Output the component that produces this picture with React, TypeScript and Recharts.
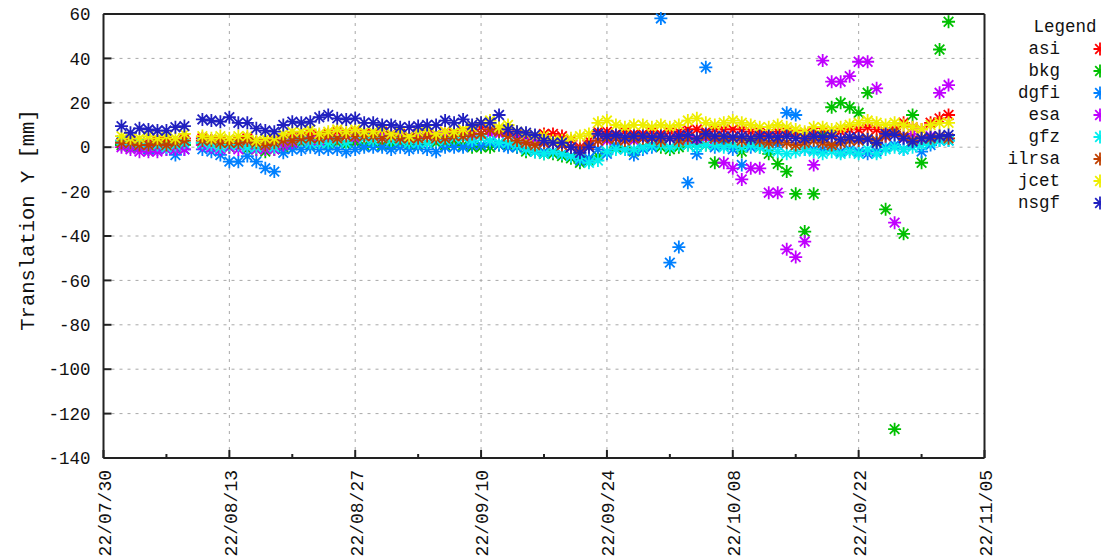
import { CartesianGrid, ReferenceLine, Scatter, ScatterChart, XAxis, YAxis } from 'recharts'

// days since 22/07/30 (no solution on day 10)
const days = [
  2, 3, 4, 5, 6, 7, 8, 9,
  11, 12, 13, 14, 15, 16, 17, 18, 19,
  20, 21, 22, 23, 24, 25, 26, 27, 28, 29,
  30, 31, 32, 33, 34, 35, 36, 37, 38, 39,
  40, 41, 42, 43, 44, 45, 46, 47, 48, 49,
  50, 51, 52, 53, 54, 55, 56, 57, 58, 59,
  60, 61, 62, 63, 64, 65, 66, 67, 68, 69,
  70, 71, 72, 73, 74, 75, 76, 77, 78, 79,
  80, 81, 82, 83, 84, 85, 86, 87, 88, 89,
  90, 91, 92, 93, 94,
]

const majorDays = [0, 14, 28, 42, 56, 70, 84, 98]
const minorDays = [0, 7, 14, 21, 28, 35, 42, 49, 56, 63, 70, 77, 84, 91, 98]
const xTickLabels = ['22/07/30', '22/08/13', '22/08/27', '22/09/10', '22/09/24', '22/10/08', '22/10/22', '22/11/05']
const yTicks = [-140, -120, -100, -80, -60, -40, -20, 0, 20, 40, 60]

const asi = [
  3, 3, 2, 2, 3, 3, 2, 4,
  4, 3, 3, 2, 3, 4, 2, 2, 3,
  4, 5, 5, 6, 5, 6, 7, 6, 7, 6,
  6, 7, 6, 6, 5, 6, 6, 6, 7, 6,
  7, 8, 9, 8, 7, 7, 6, 5, 5, 6,
  6, 5, 3, 0, 3, 7, 7, 6, 7, 6,
  6, 7, 6, 7, 7, 8, 8, 7, 8, 8,
  8, 8, 7, 7, 6, 7, 7, 6, 6, 7,
  7, 6, 7, 8, 8, 9, 8, 7, 8, 11,
  9, 8, 11, 13, 14.5,
]
const bkg = [
  1, 0, 0, -1, 0, 1, 0, 1,
  2, 1, 0, 0, 1, -1, -1, -2, -1,
  0, 1, 2, 1, 2, 1, 2, 1, 2, 1,
  2, 1, 1, 2, 1, 1, 2, 2, 1, 2,
  1, 0, 0, 0, 1, 1, 0, -2, -2, -3,
  -3, -4, -5, -7, -6, -4, -2, 0, -1, -2,
  0, 1, 0, -1, 0, 1, 2, 1, -7, 2,
  1, -2, 2, 0, -3, -7.5, -11, -21, -38, -21,
  5, 18, 20, 18, 15.5, 24.5, 2, -28, -127, -39,
  14.5, -7, 3, 44, 56.5,
]
const dgfi = [
  2, 1, 0, -1, -1, -1, -3.5, -1,
  -1, -2, -3.5, -6.5, -6.5, -4, -6.5, -9.5, -11,
  -2.5, -1, -1, 0, -1, -1, -1, -2, -1, 0,
  0, 0, -1, 0, -1, 0, -1, -2, 0, 0,
  0, 1, 1, 2, 1, 0, 0, -1, -2, -2,
  -2, -3, -4, -6, -5, -1, -3, 1, -1, -3.5,
  -1, 0, 58, -52, -45, -16, -3, 36, 0, 1,
  -1, -8, 0, 1, 2, 1, 15.5, 14.5, -1, -1,
  -1, 0, -2, -1, -2, -3, -2, 0, 1, -1,
  2, -2, 1, 3, 3,
]
const esa = [
  0, -1, -2, -2, -2, -1, -1, -1,
  1, 0, -1, 0, -1, 0, -1, -1, -1,
  1, 2, 3, 3, 3, 4, 4, 5, 4, 5,
  5, 5, 6, 5, 5, 6, 5, 5, 5, 5,
  5, 5, 6, 6, 6, 5, 4, 3, 3, 2,
  2, 1, 0, -1, 1, 3, 3, 4, 3, 3,
  4, 4, 3, 4, 4, 3, 3, 4, 3, -7,
  -9.5, -14.5, -9.5, -9.5, -20.5, -20.5, -46, -49.5, -42.5, -8,
  39, 29.5, 29.5, 32, 38.5, 38.5, 26.5, 5, -34, 4,
  6, 3, 5, 24.5, 28,
]
const gfz = [
  3, 2, 2, 1, 1, 0, 1, 2,
  2, 1, 0, 1, 1, 0, 0, 1, 0,
  3, 3, 3, 2, 2, 2, 3, 2, 5, 4,
  3, 4, 3, 3, 2, 2, 2, 3, 3, 4,
  4, 3, 4, 3, 2, 2, 1, -1, -2, -3,
  -2, -3, -4, -5, -7, -6, -2, -1, -1, -1,
  0, 1, 1, 0, 1, 1, 0, 1, 1, 0,
  1, 0, 1, 0, -1, -2, -3, -2, -1, -2,
  -3, -2, -3, -2, -3, -1, -3, -1, 0, -1,
  0, 1, 2, 3, 3,
]
const ilrsa = [
  2, 2, 1, 1, 2, 1, 2, 3,
  3, 3, 2, 2, 2, 3, 2, 1, 2,
  3, 3, 4, 4, 4, 5, 4, 5, 5, 5,
  5, 4, 5, 4, 4, 4, 5, 4, 4, 5,
  5, 6, 6, 8, 7, 5, 3, 2, 1, 2,
  2, 1, 0, -1, 1, 3, 4, 4, 3, 4,
  4, 4, 3, 4, 3, 4, 4, 5, 4, 4,
  4, 3, 4, 3, 2, 3, 2, 1, 2, 3,
  2, 1, 2, 3, 3, 4, 3, 5, 7, 5,
  3, 4, 4, 5, 4,
]
const jcet = [
  5, 4, 4, 5, 4, 5, 4, 6,
  5, 4, 5, 4, 5, 5, 3, 4, 4,
  6, 7, 7, 8, 6, 7, 8, 7, 8, 7,
  7, 8, 6, 7, 5, 7, 8, 6, 7, 7,
  8, 9, 11, 12, 9, 10, 7, 6, 5, 5,
  3, 3, 4, 5, 6, 11, 12, 10, 9, 10,
  10, 9, 10, 9, 10, 12, 13, 11, 10, 11,
  12, 11, 10, 9, 9, 10, 9, 8, 7, 9,
  9, 8, 9, 10, 11, 12, 11, 10, 11, 10,
  9, 8, 10, 11, 11,
]
const nsgf = [
  9.5, 6.5, 8.5, 8, 7.5, 7.5, 9, 9.5,
  12.5, 12, 11.5, 13.5, 11, 11, 8.5, 7.5, 7,
  10, 11.5, 11, 11.5, 13.5, 14.5, 13, 12.5, 13, 11,
  11, 10, 10, 9, 9, 9.5, 10, 10, 12, 11,
  12.5, 10, 11, 11, 14.5, 8, 7, 6.5, 5.5, 3,
  2, 2, 0, -2.5, 0, 6, 5, 5.5, 4.5, 5,
  5, 4.5, 5, 4, 5, 5.5, 4, 6, 5, 5,
  4.5, 5, 4, 5, 5, 4.5, 5, 4, 4, 5,
  4.5, 5, 3.5, 4.5, 4, 3.5, 2, 6, 5.5, 4,
  2.5, 4, 4.5, 5, 5.5,
]

const series = [
  { name: 'asi', color: '#ff0000', values: asi },
  { name: 'bkg', color: '#00c000', values: bkg },
  { name: 'dgfi', color: '#0080ff', values: dgfi },
  { name: 'esa', color: '#c000ff', values: esa },
  { name: 'gfz', color: '#00eeee', values: gfz },
  { name: 'ilrsa', color: '#c04000', values: ilrsa },
  { name: 'jcet', color: '#eeee00', values: jcet },
  { name: 'nsgf', color: '#2020c0', values: nsgf },
]

const FONT = '"Liberation Mono", "DejaVu Sans Mono", monospace'
const BORDER = '#222'
const GRID = '#a8a8a8'

const starPath = (cx: number, cy: number) => {
  const r = 6.5
  const d = 4.8
  return `M${cx - r},${cy}H${cx + r}M${cx},${cy - r}V${cy + r}M${cx - d},${cy - d}L${cx + d},${cy + d}M${cx - d},${cy + d}L${cx + d},${cy - d}`
}

const makeStar = (color: string) => (props: any) => {
  const { cx, cy } = props
  if (cx == null || cy == null) return <g />
  return <path d={starPath(cx, cy)} stroke={color} strokeWidth={1.8} fill="none" />
}

// gnuplot draws its ticks inward from the border, majors longer than minors
const BottomTick = (props: any) => {
  const { x, y, payload } = props
  const i = majorDays.indexOf(payload.value)
  const major = i >= 0
  return (
    <g>
      <line x1={x} y1={y} x2={x} y2={y - (major ? 8 : 4)} stroke={BORDER} strokeWidth={2} />
      {major && (
        <text
          transform={`translate(${x + 1},${y + 12}) rotate(-90)`}
          textAnchor="end"
          dy="0.35em"
          fontFamily={FONT}
          fontSize={18}
          fill="#111"
        >
          {xTickLabels[i]}
        </text>
      )}
    </g>
  )
}

const TopTick = (props: any) => {
  const { x, y, payload } = props
  const major = majorDays.includes(payload.value)
  return <line x1={x} y1={y} x2={x} y2={y + (major ? 8 : 4)} stroke={BORDER} strokeWidth={2} />
}

const LeftTick = (props: any) => {
  const { x, y, payload } = props
  return (
    <g>
      <line x1={x} y1={y} x2={x + 8} y2={y} stroke={BORDER} strokeWidth={2} />
      <text x={x - 13} y={y} dy="0.35em" textAnchor="end" fontFamily={FONT} fontSize={17.5} fill="#111">
        {payload.value}
      </text>
    </g>
  )
}

const RightTick = (props: any) => {
  const { x, y } = props
  return <line x1={x} y1={y} x2={x - 8} y2={y} stroke={BORDER} strokeWidth={2} />
}

function Legend() {
  return (
    <div
      style={{
        position: 'absolute',
        left: 1008,
        top: 16,
        width: 100,
        fontFamily: FONT,
        fontSize: 17.5,
        color: '#111',
      }}
    >
      <div style={{ position: 'absolute', left: 20, width: 74, textAlign: 'center', lineHeight: '22px' }}>Legend</div>
      {series.map((s, i) => (
        <div key={s.name} style={{ position: 'absolute', top: 22 + i * 22, left: 0, width: 100, height: 22 }}>
          <span style={{ position: 'absolute', right: 48, lineHeight: '22px' }}>{s.name}</span>
          <svg width={16} height={16} style={{ position: 'absolute', left: 84, top: 3 }}>
            <path d={starPath(8, 8)} stroke={s.color} strokeWidth={1.8} fill="none" />
          </svg>
        </div>
      ))}
    </div>
  )
}

export default function App() {
  return (
    <div style={{ position: 'relative', width: 1109, height: 557, margin: '-8px 0 0 -8px' }}>
      <ScatterChart width={1109} height={557} margin={{ top: 14, right: 124.5, bottom: 0, left: 0 }}>
        <CartesianGrid vertical={false} stroke={GRID} strokeDasharray="3 5" yAxisId="left" />
        {majorDays.slice(1, -1).map((d) => (
          <ReferenceLine key={d} x={d} xAxisId="bottom" yAxisId="left" stroke={GRID} strokeDasharray="3 5" />
        ))}
        <XAxis
          xAxisId="bottom"
          type="number"
          dataKey="day"
          domain={[0, 98]}
          ticks={minorDays}
          interval={0}
          height={99}
          tickSize={0}
          tickMargin={0}
          tickLine={false}
          axisLine={{ stroke: BORDER, strokeWidth: 2 }}
          tick={<BottomTick />}
        />
        <XAxis
          xAxisId="top"
          orientation="top"
          mirror
          type="number"
          domain={[0, 98]}
          ticks={minorDays}
          interval={0}
          height={10}
          tickSize={0}
          tickMargin={0}
          tickLine={false}
          axisLine={{ stroke: BORDER, strokeWidth: 2 }}
          tick={<TopTick />}
        />
        <YAxis
          yAxisId="left"
          type="number"
          dataKey="value"
          domain={[-140, 60]}
          ticks={yTicks}
          interval={0}
          width={103.5}
          tickSize={0}
          tickMargin={0}
          tickLine={false}
          axisLine={{ stroke: BORDER, strokeWidth: 2 }}
          tick={<LeftTick />}
          label={{
            content: () => (
              <text
                transform="translate(27,220) rotate(-90)"
                textAnchor="middle"
                dy="0.35em"
                fontFamily={FONT}
                fontSize={20.5}
                fill="#111"
              >
                Translation Y [mm]
              </text>
            ),
          }}
        />
        <YAxis
          yAxisId="right"
          orientation="right"
          mirror
          type="number"
          domain={[-140, 60]}
          ticks={yTicks}
          interval={0}
          width={10}
          tickSize={0}
          tickMargin={0}
          tickLine={false}
          axisLine={{ stroke: BORDER, strokeWidth: 2 }}
          tick={<RightTick />}
        />
        {series.map((s) => (
          <Scatter
            key={s.name}
            name={s.name}
            xAxisId="bottom"
            yAxisId="left"
            data={days.map((d, i) => ({ day: d, value: s.values[i] }))}
            shape={makeStar(s.color)}
            isAnimationActive={false}
          />
        ))}
      </ScatterChart>
      <Legend />
    </div>
  )
}
